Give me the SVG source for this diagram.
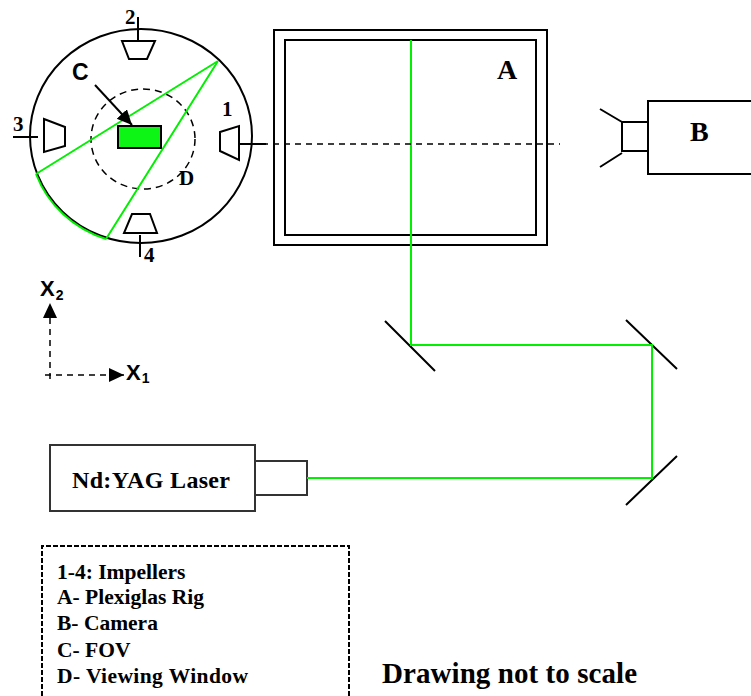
<svg xmlns="http://www.w3.org/2000/svg" width="751" height="696" viewBox="0 0 751 696">
<style>
.k{fill:none;stroke:#000;stroke-width:2}
.b{fill:#fff;stroke:#333;stroke-width:2}
.g{fill:none;stroke:#00f000;stroke-width:2}
.d{fill:none;stroke:#000;stroke-width:1.5;stroke-dasharray:6 5}
.s{font-family:"Liberation Serif",serif;font-weight:bold;fill:#000}
.a{font-family:"Liberation Sans",sans-serif;font-weight:bold;fill:#000}
.l{font-size:21.5px}
.n{font-size:21px}
</style>
<defs>
<marker id="ah" markerUnits="userSpaceOnUse" markerWidth="16" markerHeight="16" refX="15" refY="7" orient="auto"><path d="M0 0L15 7L0 14Z" fill="#000"/></marker>
</defs>
<rect width="751" height="696" fill="#fff"/>
<g id="vessel">
<ellipse class="k" cx="141" cy="136" rx="111" ry="107"/>
<ellipse cx="143" cy="139" rx="52" ry="50" fill="none" stroke="#000" stroke-width="1.5" stroke-dasharray="7 5"/>
</g>
<g id="fov"><rect x="118" y="126" width="43" height="22" fill="#0cf514" stroke="#000" stroke-width="2"/></g>
<g id="impeller-1"><path class="k" d="M220 132L239 126V160L220 151ZM240 144H266"/><text class="s n" x="222" y="116">1</text></g>
<g id="impeller-2"><path class="k" d="M122 41H155L147 59H129ZM138 17V41"/><text class="s n" x="125" y="24">2</text></g>
<g id="impeller-3"><path class="k" d="M44 119L65 127V146L44 152ZM13 137H38"/><text class="s n" x="13" y="131">3</text></g>
<g id="impeller-4"><path class="k" d="M132 214H150L157 233H124ZM140 235V257"/><text class="s n" x="144" y="262">4</text></g>
<g id="rig"><rect class="k" x="274" y="30" width="273" height="215"/><rect class="k" x="285" y="40" width="251" height="195"/><text class="s" x="497" y="79" font-size="28">A</text></g>
<g id="camera"><rect class="k" x="648" y="101" width="110" height="73"/><rect class="k" x="622" y="122" width="26" height="29"/><path class="k" d="M600 109L622 122M600 167L622 153"/><text class="s" x="690" y="141" font-size="28">B</text></g>
<g id="laser"><rect class="b" x="50" y="445" width="205" height="66"/><rect class="b" x="255" y="461" width="52" height="34"/><text class="s" x="72" y="488" font-size="24" textLength="158" lengthAdjust="spacing">Nd:YAG Laser</text></g>
<g id="mirrors"><path class="k" d="M385 321L435 371M626 320L677 369M626 505L677 456"/></g>
<g id="connectors">
<path class="g" d="M218 61L36 174M218 61L106 239"/>
<path class="g" d="M36 174A111 107 0 0 0 106 239"/>
<path class="g" d="M411 40V345H652V478H307"/>
<path class="d" d="M240 144H560"/>
<path d="M95 85L132 125" stroke="#000" stroke-width="2" fill="none" marker-end="url(#ah)"/>
<path class="d" d="M50 379V303" marker-end="url(#ah)"/>
<path class="d" d="M45 375H124" marker-end="url(#ah)"/>
</g>
<g id="labels">
<text class="a" x="72" y="80" font-size="23">C</text>
<text class="s n" x="179" y="185">D</text>
<text class="a" x="40" y="296" font-size="22">X<tspan font-size="14" dy="4" dx="1">2</tspan></text>
<text class="a" x="126" y="380" font-size="22">X<tspan font-size="14" dy="3" dx="1">1</tspan></text>
</g>
<g id="legend"><path d="M42 696V546H349V696" fill="none" stroke="#000" stroke-width="2" stroke-dasharray="5 2"/>
<text class="s l" x="57" y="579">1-4: Impellers</text>
<text class="s l" x="57" y="604">A- Plexiglas Rig</text>
<text class="s l" x="57" y="630">B- Camera</text>
<text class="s l" x="57" y="657">C- FOV</text>
<text class="s l" x="57" y="683" textLength="191" lengthAdjust="spacing">D- Viewing Window</text>
</g>
<g id="note"><text class="s" x="382" y="683" font-size="29" textLength="255" lengthAdjust="spacing">Drawing not to scale</text></g>
</svg>
